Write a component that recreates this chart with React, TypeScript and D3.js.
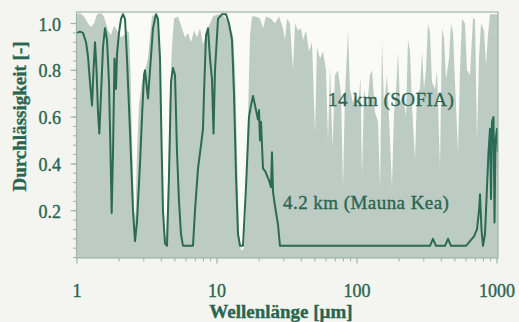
import React from "react";
import * as d3 from "d3";

// Wavelength [µm] / transmission [-] for the 14 km (SOFIA) spectrum
const sofiaWavelength = [
  1.0, 1.05, 1.122, 1.198, 1.259, 1.323, 1.39, 1.485, 1.559, 1.665, 1.749, 1.837, 1.931, 2.028, 2.167, 2.276,
  2.352, 2.411, 2.471, 2.554, 2.617, 2.682, 2.772, 2.912, 3.06, 3.215, 3.322, 3.433, 3.667, 3.789, 3.916, 4.047,
  4.183, 4.323, 4.467, 4.616, 4.77, 4.93, 5.266, 5.623, 5.908, 6.207, 6.521, 6.85, 7.197, 7.56, 7.943, 8.346,
  8.768, 9.363, 10.17, 11.22, 12.18, 13.01, 13.45, 13.9, 14.36, 14.85, 15.59, 16.11, 16.65, 17.21, 17.78, 18.99,
  20.28, 21.31, 22.39, 24.31, 25.96, 27.72, 29.61, 30.6, 31.62, 33.22, 34.9, 36.07, 37.89, 39.81, 41.14, 43.23,
  45.41, 47.7, 50.12, 51.79, 54.41, 57.16, 60.06, 62.07, 64.15, 66.83, 69.64, 73.15, 76.87, 79.43, 82.08, 86.25,
  89.13, 93.63, 98.37, 101.7, 105.9, 108.6, 112.2, 117.9, 123.8, 128, 134.5, 141.3, 146, 150.9, 155.9, 163.8,
  169.2, 177.8, 183.7, 189.9, 196.2, 202.8, 213.1, 223.9, 231.4, 239.1, 247.1, 259.6, 268.2, 281.8, 291.2, 301,
  311, 321.5, 332.2, 343.3, 360.7, 372.8, 391.6, 404.7, 418.2, 432.3, 454.1, 469.3, 485, 501.2, 526.6, 544.1,
  562.3, 590.7, 610.6, 641.5, 673.8, 696.4, 719.7, 743.7, 768.6, 807.5, 834.5, 862.5, 891.3, 1000, 1020,
];
const sofiaTransmission = [
  1.04, 1.045, 1.03, 1.0, 0.985, 1.0, 1.04, 1.045, 1.03, 0.97, 0.95, 0.99, 0.97, 0.94, 0.95, 0.97,
  0.96, 0.8, 0.5, 0.2, 0.17, 0.45, 0.65, 0.75, 0.8, 0.85, 0.95, 1.03, 1.04, 1.0, 0.8, 0.4,
  0.12, 0.08, 0.3, 0.7, 0.9, 1.02, 1.03, 0.98, 0.94, 0.96, 0.92, 0.97, 0.94, 0.98, 0.91, 0.95,
  0.99, 1.03, 1.04, 1.03, 1.0, 0.95, 0.8, 0.45, 0.1, 0.03, 0.04, 0.2, 0.6, 0.95, 1.03, 1.03,
  1.02, 0.98, 1.03, 1.02, 1.0, 1.03, 0.98, 0.93, 1.02, 1.0, 0.8, 1.0, 0.97, 0.98, 0.93, 0.97,
  0.88, 0.92, 0.53, 0.9, 0.85, 0.88, 0.8, 0.5, 0.82, 0.47, 0.78, 0.8, 0.7, 0.3, 0.7, 0.97,
  0.72, 0.66, 0.7, 0.64, 0.77, 0.34, 0.72, 0.64, 0.78, 0.8, 0.62, 0.58, 0.3, 0.93, 0.64, 0.78,
  0.6, 0.3, 0.62, 0.7, 0.88, 0.66, 0.7, 0.6, 0.93, 0.88, 0.65, 0.42, 0.7, 0.72, 0.88, 0.72,
  0.8, 1.0, 0.96, 0.75, 0.72, 0.8, 0.38, 0.98, 0.94, 0.76, 0.85, 1.0, 0.96, 0.75, 0.45, 0.8,
  1.02, 1.0, 0.8, 0.78, 1.02, 1.02, 0.5, 0.85, 1.0, 0.97, 0.82, 0.95, 1.04, 1.04, 1.04,
];

// Wavelength [µm] / transmission [-] for the 4.2 km (Mauna Kea) spectrum
const maunaKeaWavelength = [
  1.0, 1.05, 1.104, 1.16, 1.198, 1.238, 1.28, 1.312, 1.345, 1.379, 1.413, 1.444, 1.485, 1.534, 1.585, 1.638,
  1.692, 1.735, 1.769, 1.808, 1.853, 1.899, 1.931, 1.995, 2.062, 2.131, 2.203, 2.276, 2.391, 2.512, 2.596, 2.682,
  2.818, 2.912, 3.01, 3.06, 3.215, 3.322, 3.49, 3.667, 3.789, 3.916, 4.014, 4.114, 4.252, 4.394, 4.541, 4.693,
  4.85, 5.012, 5.18, 5.352, 5.531, 5.716, 6.738, 6.964, 7.315, 7.687, 7.943, 8.075, 8.346, 8.625, 8.913, 9.211,
  9.441, 9.677, 10.17, 10.86, 11.6, 12.18, 12.8, 13.23, 13.67, 14.13, 14.6, 15.34, 16.11, 16.92, 17.49, 18.08,
  18.68, 19.62, 19.95, 20.28, 20.62, 21.31, 22.03, 22.76, 23.52, 24.31, 24.71, 25.12, 25.96, 27.27, 28.18, 321.5,
  332.2, 349, 366.7, 378.9, 411.4, 425.2, 446.7, 469.3, 485, 600.6, 641.5, 685, 719.7, 743.7, 756, 775,
  794.3, 820.8, 848.3, 869.6, 891.3, 906, 921, 944, 959.9, 975.7, 1000, 1016,
];
const maunaKeaTransmission = [
  0.96, 0.965, 0.96, 0.92, 0.86, 0.75, 0.65, 0.8, 0.92, 0.8, 0.62, 0.53, 0.7, 0.9, 0.98, 0.93,
  0.75, 0.45, 0.19, 0.45, 0.85, 0.72, 0.87, 0.96, 1.02, 1.04, 1.02, 0.85, 0.54, 0.2, 0.07, 0.15,
  0.4, 0.6, 0.78, 0.8, 0.68, 0.8, 0.98, 1.04, 1.02, 0.85, 0.5, 0.2, 0.06, 0.05, 0.35, 0.75,
  0.81, 0.78, 0.45, 0.24, 0.1, 0.05, 0.05, 0.2, 0.38, 0.48, 0.55, 0.7, 0.95, 0.98, 0.85, 0.76,
  0.53, 0.8, 1.02, 1.04, 1.04, 1.0, 0.93, 0.7, 0.35, 0.1, 0.05, 0.05, 0.3, 0.6, 0.65, 0.69,
  0.65, 0.59, 0.63, 0.5, 0.58, 0.38, 0.37, 0.35, 0.33, 0.3, 0.45, 0.28, 0.22, 0.14, 0.05, 0.05,
  0.05, 0.08, 0.05, 0.05, 0.05, 0.05, 0.08, 0.05, 0.05, 0.05, 0.07, 0.09, 0.12, 0.2, 0.27, 0.12,
  0.05, 0.1, 0.3, 0.45, 0.55, 0.25, 0.58, 0.6, 0.15, 0.5, 0.55, 0.45,
];

const xTickValues = [1, 10, 100, 1000];
const xTickLabels = ["1", "10", "100", "1000"];
const yTickValues = [0.2, 0.4, 0.6, 0.8, 1.0];
const yTickLabels = ["0.2", "0.4", "0.6", "0.8", "1.0"];

const W = 519;
const H = 322;
const PL = 76.5, PR = 498, PT = 12, PB = 258;

const TEXT = "#2a6550";
const LINE = "#2b6a55";
const FILL = "#bccbc3";
const FRAME = "#9fb5ab";
const SERIF = "'Liberation Serif', 'Times New Roman', Times, serif";

export default function App() {
  const x = d3.scaleLog().domain([1, 1000]).range([77, 497]);
  const y = d3.scaleLinear().domain([0, 1]).range([257.5, 23.5]);

  const sofia = sofiaWavelength.map((w, i) => [w, sofiaTransmission[i]] as [number, number]);
  const mk = maunaKeaWavelength.map((w, i) => [w, maunaKeaTransmission[i]] as [number, number]);

  const area = d3
    .area<[number, number]>()
    .x((d) => x(d[0]))
    .y0(y(0) + 2)
    .y1((d) => y(d[1]));
  const line = d3
    .line<[number, number]>()
    .x((d) => x(d[0]))
    .y((d) => y(d[1]));

  const minorX: number[] = [];
  for (const dec of [1, 10, 100]) for (let k = 2; k <= 9; k++) minorX.push(dec * k);
  const minorY = d3.range(0, 26).map((i) => i * 0.04);

  const txt = { fontFamily: SERIF, fill: TEXT, stroke: TEXT, strokeWidth: 0.35 };

  return (
    <svg
      width={W}
      height={H}
      style={{ position: "absolute", left: 0, top: 0, background: "#f4f5f0" }}
    >
      <rect x={0} y={0} width={W} height={H} fill="#f4f5f0" />
      <defs>
        <clipPath id="plotclip">
          <rect x={PL} y={PT} width={PR - PL} height={PB - PT} />
        </clipPath>
      </defs>
      <rect x={PL} y={PT} width={PR - PL} height={PB - PT} fill="#fafaf7" />
      <g clipPath="url(#plotclip)">
        <path d={area(sofia) ?? ""} fill={FILL} />
        <path d={line(mk) ?? ""} fill="none" stroke={LINE} strokeWidth={2} strokeLinejoin="round" />
      </g>
      <rect x={PL} y={PT} width={PR - PL} height={PB - PT} fill="none" stroke={FRAME} strokeWidth={1.2} />

      {/* y ticks */}
      {minorY.map((v, i) => (
        <line key={"my" + i} x1={PL - 3.5} x2={PL} y1={y(v)} y2={y(v)} stroke={FRAME} strokeWidth={1} />
      ))}
      {yTickValues.map((v, i) => (
        <g key={"y" + i}>
          <line x1={PL - 6} x2={PL} y1={y(v)} y2={y(v)} stroke={FRAME} strokeWidth={1.2} />
          <text x={61} y={y(v) + 7} textAnchor="end" fontSize={18} {...txt}>
            {yTickLabels[i]}
          </text>
        </g>
      ))}

      {/* x ticks */}
      {minorX.map((v, i) => (
        <line key={"mx" + i} x1={x(v)} x2={x(v)} y1={PB} y2={PB + 3.5} stroke={FRAME} strokeWidth={1} />
      ))}
      {xTickValues.map((v, i) => (
        <g key={"x" + i}>
          <line x1={x(v)} x2={x(v)} y1={PB} y2={PB + 5.5} stroke={FRAME} strokeWidth={1.2} />
          <text x={x(v)} y={297} textAnchor="middle" fontSize={18} {...txt}>
            {xTickLabels[i]}
          </text>
        </g>
      ))}

      <text x={281} y={318} textAnchor="middle" fontSize={19} fontWeight="bold" {...txt}>
        Wellenlänge [µm]
      </text>
      <text
        transform="translate(26,116.5) rotate(-90)"
        textAnchor="middle"
        fontSize={19}
        fontWeight="bold"
        {...txt}
      >
        Durchlässigkeit [-]
      </text>

      <text x={328} y={106} fontSize={19} letterSpacing={0.45} {...txt}>
        14 km (SOFIA)
      </text>
      <text x={283} y={209} fontSize={19} letterSpacing={0.45} {...txt}>
        4.2 km (Mauna Kea)
      </text>
    </svg>
  );
}
